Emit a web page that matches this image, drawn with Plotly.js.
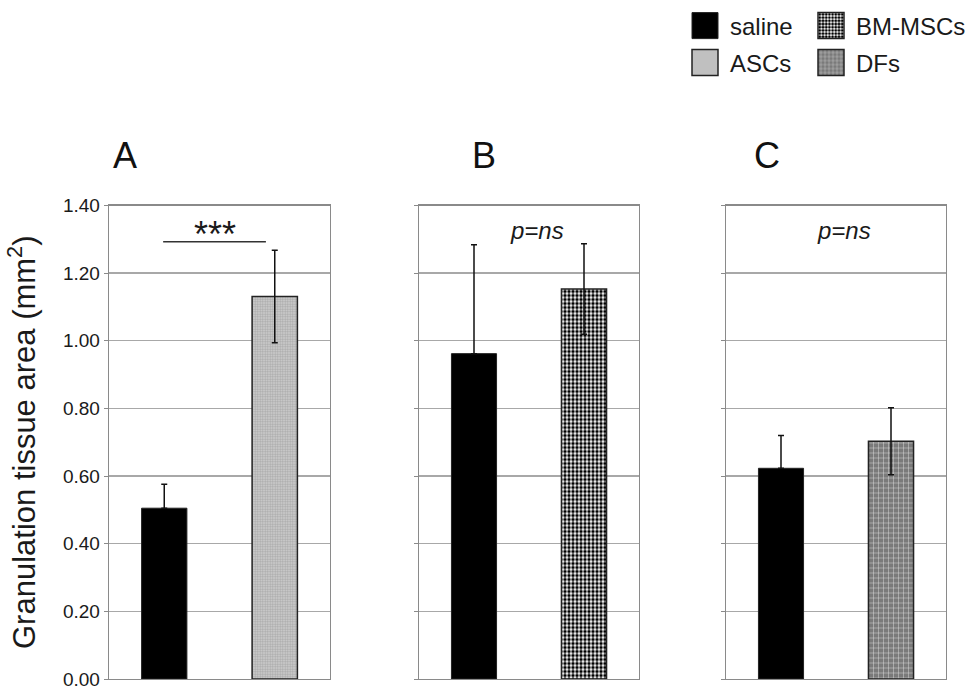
<!DOCTYPE html>
<html><head><meta charset="utf-8">
<script src="https://cdn.plot.ly/plotly-3.0.1.min.js"></script>
<style>html,body{margin:0;padding:0;background:#fff;} #chart{width:976px;height:691px;}</style>
</head><body><div id="chart"></div>
<script>
// ---- data ----
const panelLabels = ['A', 'B', 'C'];
const controlName = 'saline';
const salineMeans = [0.505, 0.962, 0.623];
const salineErr = [0.071, 0.322, 0.097];
const treatNames = ['ASCs', 'BM-MSCs', 'DFs'];
const treatMeans = [1.131, 1.153, 0.703];
const treatErr = [0.137, 0.134, 0.099];
const pLabels = ['***', '<i>p=ns</i>', '<i>p=ns</i>'];
const sigBarY = 1.293;
const yTickVals = [0, 0.2, 0.4, 0.6, 0.8, 1.0, 1.2, 1.4];
const yTitle = 'Granulation tissue area (mm<sup>2</sup>)';

// ---- styling ----
const FONT = 'Arial, "Liberation Sans", sans-serif';
const W = 976, H = 691;
const xDomPx = [[109, 330], [419, 639], [726, 946]];
const yDom = [1 - 679 / H, 1 - 205.5 / H];
const patterns = {
  'ASCs':    {shape: '.', fgcolor: '#a9a9a9', bgcolor: '#d2d2d2', size: 2.5, solidity: 0.5},
  'BM-MSCs': {shape: '.', fgcolor: '#000000', bgcolor: '#ffffff', size: 4, solidity: 0.6},
  'DFs':     {shape: '+', fgcolor: '#f2f2f2', bgcolor: '#7a7a7a', size: 5, solidity: 0.15}
};
const legendFor = {'saline': 'legend', 'BM-MSCs': 'legend2', 'ASCs': 'legend3', 'DFs': 'legend4'};

const traces = [];
const layout = {
  width: W, height: H,
  margin: {l: 0, r: 0, t: 0, b: 0},
  paper_bgcolor: '#fff', plot_bgcolor: '#fff',
  font: {family: FONT, color: '#1a1a1a'},
  barmode: 'overlay',
  shapes: [], annotations: []
};

panelLabels.forEach((lab, i) => {
  const n = i === 0 ? '' : String(i + 1);
  const xa = 'x' + n, ya = 'y' + n;
  const cats = [controlName, treatNames[i]];
  traces.push({
    type: 'bar', x: [controlName], y: [salineMeans[i]], xaxis: xa, yaxis: ya,
    name: controlName, legendgroup: controlName, showlegend: i === 0, legend: legendFor[controlName],
    width: 0.41,
    marker: {color: '#000', line: {color: '#222', width: 1}},
    error_y: {type: 'data', symmetric: false, array: [salineErr[i]], arrayminus: [0],
              color: '#111', thickness: 1.5, width: 3},
    hoverinfo: 'skip'
  });
  traces.push({
    type: 'bar', x: [treatNames[i]], y: [treatMeans[i]], xaxis: xa, yaxis: ya,
    name: treatNames[i], showlegend: true, legend: legendFor[treatNames[i]],
    width: 0.41,
    marker: {color: patterns[treatNames[i]].bgcolor, line: {color: '#222', width: 1.5},
             pattern: Object.assign({fillmode: 'replace'}, patterns[treatNames[i]])},
    error_y: {type: 'data', array: [treatErr[i]], color: '#111', thickness: 1.5, width: 3},
    hoverinfo: 'skip'
  });
  layout['xaxis' + n] = {
    domain: [xDomPx[i][0] / W, xDomPx[i][1] / W], anchor: ya,
    type: 'category', categoryorder: 'array', categoryarray: cats, range: [-0.5, 1.5],
    showticklabels: false, ticks: '', showgrid: false, zeroline: false,
    showline: true, mirror: true, linecolor: '#8a8a8a', linewidth: 1.3, fixedrange: true
  };
  layout['yaxis' + n] = {
    domain: yDom, anchor: xa, range: [0, 1.4],
    tickvals: yTickVals, tickformat: '.2f', showticklabels: i === 0,
    ticks: 'outside', ticklen: 4, tickcolor: '#8a8a8a', tickwidth: 1,
    tickfont: {size: 19, color: '#1a1a1a', family: FONT},
    showgrid: true, gridcolor: '#a8a8a8', gridwidth: 1.3, zeroline: false,
    showline: true, mirror: true, linecolor: '#8a8a8a', linewidth: 1.3, fixedrange: true
  };
  if (i === 0) {
    layout.yaxis.title = {text: yTitle, font: {size: 31, family: FONT, color: '#1a1a1a'}, standoff: 18};
  }
  // significance annotation
  layout.annotations.push({
    xref: xa, yref: ya, x: i === 0 ? 0.455 : 0.57, y: i === 0 ? 1.315 : 1.325,
    text: pLabels[i], showarrow: false, xanchor: 'center', yanchor: 'middle',
    font: {size: i === 0 ? 36 : 24, family: FONT, color: '#1a1a1a'}
  });
  // panel letter
  layout.annotations.push({
    xref: 'paper', yref: 'paper', x: [125, 484, 767][i] / W, y: 1 - 155 / H,
    text: lab, showarrow: false, xanchor: 'center', yanchor: 'middle',
    font: {size: 36, family: FONT, color: '#111'}
  });
});

layout.shapes.push({type: 'line', xref: 'x', yref: 'y', x0: -0.01, x1: 0.92, y0: sigBarY, y1: sigBarY,
  line: {color: '#333', width: 1.5}});

const legBase = {orientation: 'v', xanchor: 'left', yanchor: 'middle', bgcolor: 'rgba(0,0,0,0)',
  borderwidth: 0, itemwidth: 40, font: {size: 24, family: FONT, color: '#1a1a1a'},
  itemclick: false, itemdoubleclick: false};
layout.legend  = Object.assign({}, legBase, {x: 680 / W, y: 1 - 26 / H});
layout.legend2 = Object.assign({}, legBase, {x: 806 / W, y: 1 - 26 / H});
layout.legend3 = Object.assign({}, legBase, {x: 680 / W, y: 1 - 63 / H});
layout.legend4 = Object.assign({}, legBase, {x: 806 / W, y: 1 - 63 / H});

Plotly.newPlot('chart', traces, layout, {displayModeBar: false, staticPlot: true}).then(gd => {
  gd.querySelectorAll('.legendpoints path').forEach(p => {
    p.setAttribute('d', 'M13,13H-13V-13H13Z');
  });
});
</script>
</body></html>
